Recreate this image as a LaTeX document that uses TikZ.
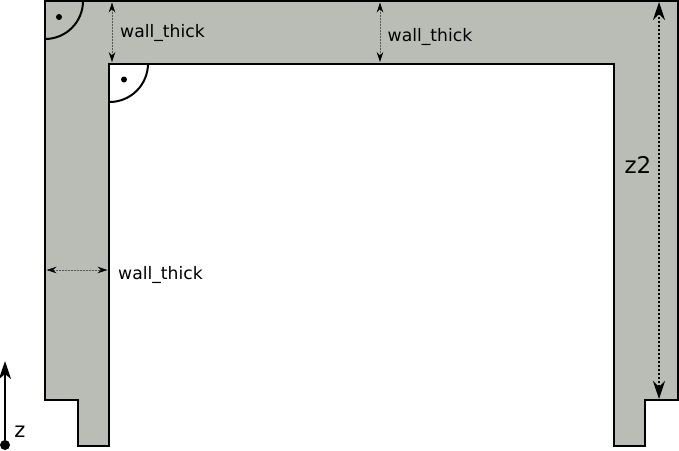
\documentclass[tikz,border=0pt]{standalone}
\usepackage{fontspec}
\setmainfont{DejaVu Sans}
\usetikzlibrary{arrows.meta,positioning}
\definecolor{wallgray}{HTML}{BABDB6}
\begin{document}
\begin{tikzpicture}[
  x=1pt, y=-1pt, font=\fontsize{17.2}{20}\selectfont,
  outline/.style={draw=black,line width=2pt,line join=miter},
  label/.style={inner sep=0pt,anchor=west},
  thickdim/.style={draw=black!65,line width=0.6pt,dash pattern=on 1pt off 0.5pt,{Stealth[black,length=10pt,width=6.5pt,inset=3.5pt]}-{Stealth[black,length=10pt,width=6.5pt,inset=3.5pt]}},
  heightdim/.style={draw=black,line width=2.2pt,dash pattern=on 2pt off 2pt,{Stealth[length=18pt,width=12pt,inset=6pt]}-{Stealth[length=18pt,width=12pt,inset=6pt]}},
  spot/.style={circle,fill=black,inner sep=0pt,minimum size=6pt}]
\useasboundingbox (0,0) rectangle (679,450);
\draw[outline,fill=wallgray] (45,1)--(678,1)--(678,400)--(645,400)--(645,445.5)--(613.5,445.5)--(613.5,63.5)--(109,63.5)--(109,445.5)--(78,445.5)--(78,400)--(45,400)--cycle;
% right angle marks
\draw[outline] (83,1) arc[start angle=0,end angle=90,radius=38];
\draw[outline,fill=white] (148,63.5) arc[start angle=0,end angle=90,radius=38.5];
\draw[outline] (109,63.5)--(109,102);
\node[spot] (outerdot) at (59,17) {};
\node[spot] (innerdot) at (124,79.5) {};
% wall thickness
\coordinate (topa) at (112,2.5);
\coordinate (topb) at (112,62);
\coordinate (topc) at (380,2.5);
\coordinate (topd) at (380,62);
\coordinate (sidea) at (46.5,270);
\coordinate (sideb) at (107.5,270);
\draw[thickdim] (topa)--(topb);
\draw[thickdim] (topc)--(topd);
\draw[thickdim] (sidea)--(sideb);
\node[label] (wallone) at (120,32.5) {wall\_thick};
\node[label] (walltwo) at (387.5,36.5) {wall\_thick};
\node[label] (wallthree) at (118,274.5) {wall\_thick};
% height
\coordinate (zta) at (659,2);
\coordinate (ztb) at (659,399);
\draw[heightdim] (zta)--(ztb);
\node[font=\fontsize{23}{27}\selectfont,inner sep=0pt] (ztwo) at (638,165) {z2};
% axis
\node[spot,minimum size=10pt] (origin) at (5,445) {};
\coordinate (axistop) at (5,361);
\draw[draw=black,line width=1.6pt,-{Stealth[length=18pt,width=12pt,inset=5pt]}] (origin)--(axistop);
\node[font=\fontsize{21}{25}\selectfont,inner sep=0pt] (zname) at (20,432) {z};
\end{tikzpicture}
\end{document}
